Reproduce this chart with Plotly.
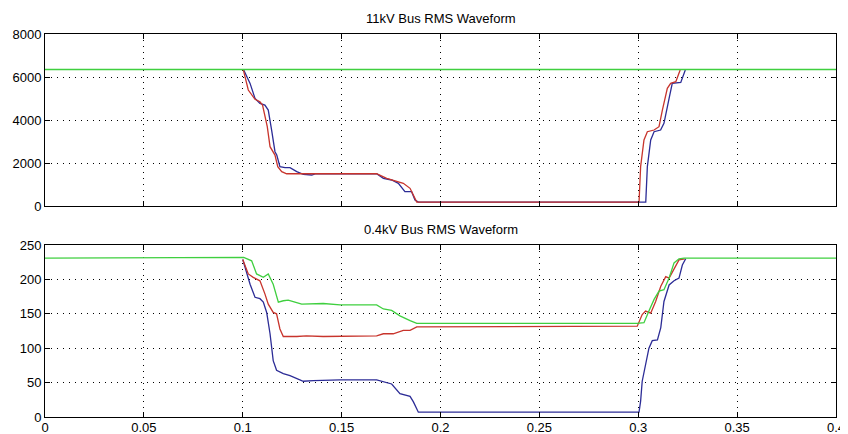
import plotly.graph_objects as go
from plotly.subplots import make_subplots

# ---------- 11kV bus ----------
hv_green_t = [0.0, 0.4]
hv_green_v = [6350, 6350]

hv_red_t = [0.1003, 0.1028, 0.1062, 0.1087, 0.110, 0.1124, 0.1138, 0.1163, 0.1177, 0.1197,
            0.1222, 0.1677, 0.1728, 0.1778, 0.1812, 0.1846, 0.188, 0.3004, 0.3012, 0.3029, 0.3046,
            0.308, 0.3105, 0.3122, 0.3147, 0.3164, 0.319, 0.3212]
hv_red_v = [6330, 5394, 4960, 4850, 4697, 3690, 2760, 2370, 1830, 1600,
            1500, 1500, 1290, 1130, 1055, 822, 180, 180, 1830, 3069, 3456,
            3534, 3690, 4464, 5472, 5704, 5780, 6330]

hv_blue_t = [0.1005, 0.1037, 0.1062, 0.1087, 0.1112, 0.1129, 0.1146, 0.1163, 0.1172, 0.1188,
             0.1214, 0.1239, 0.1273, 0.1306, 0.1349, 0.137, 0.1677, 0.1711, 0.1753, 0.1787, 0.182,
             0.1854, 0.1871, 0.1888, 0.3038, 0.3046, 0.3063, 0.308, 0.3113, 0.313, 0.3156, 0.3172,
             0.3215, 0.3238]
hv_blue_v = [6330, 5704, 5007, 4775, 4697, 4464, 3534, 2525, 2370, 1830,
             1783, 1783, 1597, 1473, 1441, 1500, 1500, 1290, 1210, 1055, 667,
             667, 280, 180, 180, 1830, 3069, 3456, 3534, 3845, 5007, 5704,
             5750, 6330]

# ---------- 0.4kV bus ----------
lv_green_t = [0.0, 0.1005, 0.1045, 0.107, 0.1104, 0.1129, 0.1154, 0.118, 0.1205, 0.123, 0.1264, 0.1298,
              0.1407, 0.1492, 0.1677, 0.1711, 0.1753, 0.1795, 0.1846, 0.188, 0.2995, 0.3029, 0.3054,
              0.308, 0.3105, 0.313, 0.3156, 0.3181, 0.3206, 0.3232, 0.4]
lv_green_v = [231, 232, 227, 208, 203, 208, 193, 167, 169, 170, 167, 164,
              165, 163, 163, 157, 155, 147, 140, 136, 136, 137, 154,
              171, 183, 185, 202, 224, 230, 231, 231]

lv_red_t = [0.1, 0.1028, 0.1053, 0.1087, 0.1112, 0.1129, 0.1154, 0.1171, 0.1188, 0.1205, 0.1273,
            0.1322, 0.1407, 0.1492, 0.1559, 0.1618, 0.1677, 0.1711, 0.1761, 0.1812, 0.1846, 0.188,
            0.2995, 0.302, 0.3037, 0.3063, 0.3088, 0.3114, 0.3139, 0.3156, 0.3181, 0.3206, 0.3235]
lv_red_v = [229, 208, 203, 198, 179, 164, 152, 150, 128, 117, 117,
            118, 117, 117, 117, 117, 118, 121, 121, 126, 126, 131,
            132, 149, 154, 151, 168, 190, 204, 202, 216, 228.5, 230]

lv_blue_t = [0.1, 0.1037, 0.1062, 0.1087, 0.1104, 0.1121, 0.1138, 0.1154, 0.1171, 0.1205, 0.1239,
             0.1273, 0.1306, 0.1357, 0.1492, 0.1677, 0.1711, 0.1753, 0.1795, 0.1846, 0.1863, 0.1888,
             0.3004, 0.3012, 0.302, 0.3037, 0.3054, 0.3071, 0.3097, 0.3114, 0.313, 0.3156, 0.3181,
             0.3206, 0.3223, 0.324]
lv_blue_v = [229, 193, 174, 172, 167, 152, 121, 82, 68, 63, 60,
             56, 52, 53, 54, 54, 51, 48, 34, 30, 22, 7,
             7, 23, 52, 76, 100, 111, 112, 130, 168, 192, 198,
             202, 221, 230]

x_tickvals = [0, 0.05, 0.1, 0.15, 0.2, 0.25, 0.3, 0.35, 0.4]
x_ticktext = ["0", "0.05", "0.1", "0.15", "0.2", "0.25", "0.3", "0.35", "0.4"]
hv_yticks = [0, 2000, 4000, 6000, 8000]
lv_yticks = [0, 50, 100, 150, 200, 250]

titles = ["11kV Bus RMS Waveform", "0.4kV Bus RMS Waveform"]

GREEN = "#3fcf3f"
RED = "#c8342c"
BLUE = "#2c2c96"
FONT = "Liberation Sans, Arial, sans-serif"

fig = make_subplots(rows=2, cols=1)

lw = 1.3
fig.add_trace(go.Scatter(x=hv_blue_t, y=hv_blue_v, mode="lines", line=dict(color=BLUE, width=lw)), row=1, col=1)
fig.add_trace(go.Scatter(x=hv_red_t, y=hv_red_v, mode="lines", line=dict(color=RED, width=lw)), row=1, col=1)
fig.add_trace(go.Scatter(x=hv_green_t, y=hv_green_v, mode="lines", line=dict(color=GREEN, width=lw)), row=1, col=1)

fig.add_trace(go.Scatter(x=lv_blue_t, y=lv_blue_v, mode="lines", line=dict(color=BLUE, width=lw)), row=2, col=1)
fig.add_trace(go.Scatter(x=lv_red_t, y=lv_red_v, mode="lines", line=dict(color=RED, width=lw)), row=2, col=1)
fig.add_trace(go.Scatter(x=lv_green_t, y=lv_green_v, mode="lines", line=dict(color=GREEN, width=lw)), row=2, col=1)

common_axis = dict(
    showline=True, linecolor="black", linewidth=1, mirror="allticks",
    ticks="inside", ticklen=5, tickcolor="black", tickwidth=1,
    showgrid=True, gridcolor="black", griddash="1px,5px", gridwidth=1,
    zeroline=False, automargin=False,
    tickfont=dict(family=FONT, size=13, color="black"),
)

fig.update_xaxes(range=[0, 0.4], tickvals=x_tickvals, ticktext=x_ticktext, **common_axis)
fig.update_xaxes(showticklabels=False, row=1, col=1)
fig.update_xaxes(ticklabelstandoff=-2, row=2, col=1)
fig.update_yaxes(**common_axis)
fig.update_yaxes(range=[0, 8000], tickvals=hv_yticks, domain=[0.5509, 1.0], row=1, col=1)
fig.update_yaxes(range=[0, 250], tickvals=lv_yticks, domain=[0.0, 0.449], row=2, col=1)

fig.add_annotation(text=titles[0], x=0.5, y=1.0, xref="paper", yref="paper", xanchor="center",
                   yanchor="bottom", yshift=6, showarrow=False,
                   font=dict(family=FONT, size=13, color="black"))
fig.add_annotation(text=titles[1], x=0.5, y=0.449, xref="paper", yref="paper", xanchor="center",
                   yanchor="bottom", yshift=6, showarrow=False,
                   font=dict(family=FONT, size=13, color="black"))

# page body has an 8px default margin, so the margins are offset to compensate
fig.update_layout(
    width=848, height=434, showlegend=False,
    margin=dict(l=37, r=20, t=26, b=25),
    plot_bgcolor="white", paper_bgcolor="white",
)

fig.write_html("out.html")
